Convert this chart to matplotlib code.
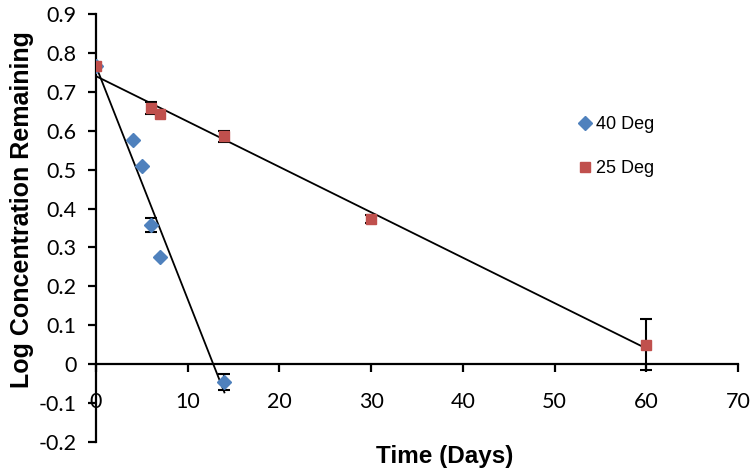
import numpy as np
import matplotlib.pyplot as plt
from matplotlib.lines import Line2D

# Log concentration remaining vs time, two storage temperatures
days_40 = [0, 4, 5, 6, 7, 14]
conc_40 = [0.767, 0.576, 0.509, 0.357, 0.275, -0.045]
err_40 = [0, 0, 0, 0.018, 0, 0.021]

days_25 = [0, 6, 7, 14, 30, 60]
conc_25 = [0.767, 0.658, 0.643, 0.586, 0.373, 0.05]
err_25 = [0, 0.015, 0, 0.014, 0.01, 0.066]

blue = '#4F81BD'
red = '#C0504D'
tick_font = ['Lato', 'DejaVu Sans']
title_font = ['Liberation Sans', 'DejaVu Sans']

fig = plt.figure(figsize=(7.52, 4.76), dpi=100)
ax = fig.add_axes([96 / 752, 34 / 476, 642 / 752, 428 / 476])

# linear trendlines fitted to each series
for xs, ys in [(days_40, conc_40), (days_25, conc_25)]:
    k, b = np.polyfit(xs, ys, 1)
    xl = np.array([min(xs), max(xs)])
    ax.plot(xl, k * xl + b, color='black', lw=1.3, zorder=2)

ax.errorbar(days_40, conc_40, yerr=err_40, fmt='D', color=blue, ms=7,
            ecolor='black', elinewidth=1.5, capsize=4, capthick=1.5, zorder=3)
ax.errorbar(days_25, conc_25, yerr=err_25, fmt='s', color=red, ms=7,
            ecolor='black', elinewidth=1.5, capsize=4, capthick=1.5, zorder=4)

ax.set_xlim(0, 70)
ax.set_ylim(-0.2, 0.9)
ax.set_xticks(np.arange(0, 71, 10))
yt = np.round(np.arange(-0.2, 0.91, 0.1), 1)
ax.set_yticks(yt)
ax.set_yticklabels([f'{v:g}' for v in yt])

ax.spines['top'].set_visible(False)
ax.spines['right'].set_visible(False)
ax.spines['bottom'].set_position(('data', 0))
ax.spines['left'].set_linewidth(1.6)
ax.spines['bottom'].set_linewidth(1.6)
ax.tick_params(axis='both', direction='out', length=6, width=1.6, labelsize=15.5)
ax.tick_params(axis='x', pad=14)
ax.tick_params(axis='y', pad=8)
for lab in ax.get_xticklabels() + ax.get_yticklabels():
    lab.set_family(tick_font)

ax.set_xlabel('Time (Days)', fontsize=17.5, fontweight='bold', family=title_font, va='center')
ax.xaxis.set_label_coords((445 - 96) / 642, -15 / 428)
ax.set_ylabel('Log Concentration Remaining', fontsize=18, fontweight='bold', family=title_font, va='center')
ax.yaxis.set_label_coords((22 - 96) / 642, (442 - 210) / 428)

handles = [Line2D([], [], ls='none', marker='D', ms=7, color=blue),
           Line2D([], [], ls='none', marker='s', ms=7, color=red)]
ax.legend(handles, ['40 Deg', '25 Deg'], loc='upper left',
          bbox_to_anchor=((560 - 96) / 642, (442 - 100) / 428),
          frameon=False, handletextpad=0.1, labelspacing=1.5, handlelength=1.0,
          prop={'family': title_font, 'size': 13})

plt.savefig('out.png', dpi=100)
